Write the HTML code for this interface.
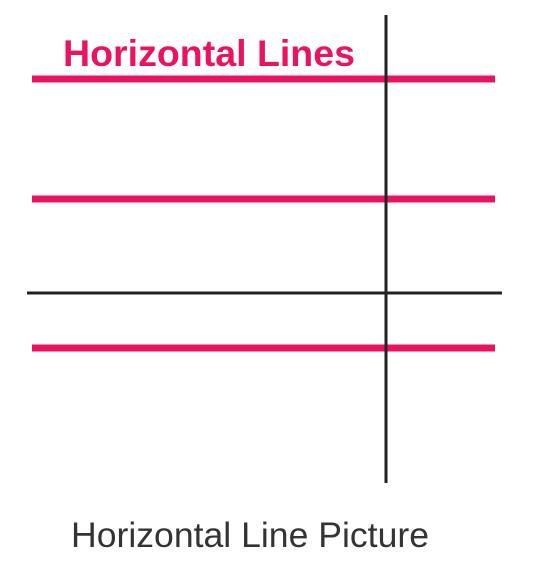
<!DOCTYPE html>
<html><head><meta charset="utf-8"><style>
html,body{margin:0;padding:0;background:#fff;width:542px;height:582px;overflow:hidden}
svg{display:block}
</style></head><body>
<svg width="542" height="582" viewBox="0 0 542 582">
<script>
</script>
<g id="pink"></g>
<line x1="27" y1="293" x2="502" y2="293" stroke="#222" stroke-width="3"/>
<line x1="386" y1="15" x2="386" y2="483" stroke="#222" stroke-width="3"/>
<text x="63" y="66" font-family="Liberation Sans, sans-serif" font-weight="bold" font-size="37" fill="#e8145f" textLength="292" lengthAdjust="spacingAndGlyphs">Horizontal Lines</text>
<text x="71" y="547" font-family="Liberation Sans, sans-serif" font-size="35" fill="#333" textLength="358" lengthAdjust="spacingAndGlyphs">Horizontal Line Picture</text>
</svg>
<script>
const lineYs = [79, 199, 348];
const g = document.getElementById('pink');
lineYs.forEach(function(y, i){
  const l = document.createElementNS('http://www.w3.org/2000/svg','line');
  l.setAttribute('x1', 32); l.setAttribute('x2', 495);
  l.setAttribute('y1', y); l.setAttribute('y2', y);
  l.setAttribute('stroke', '#e8145f'); l.setAttribute('stroke-width', 7);
  
  
  g.appendChild(l);
});
</script>
</body></html>
